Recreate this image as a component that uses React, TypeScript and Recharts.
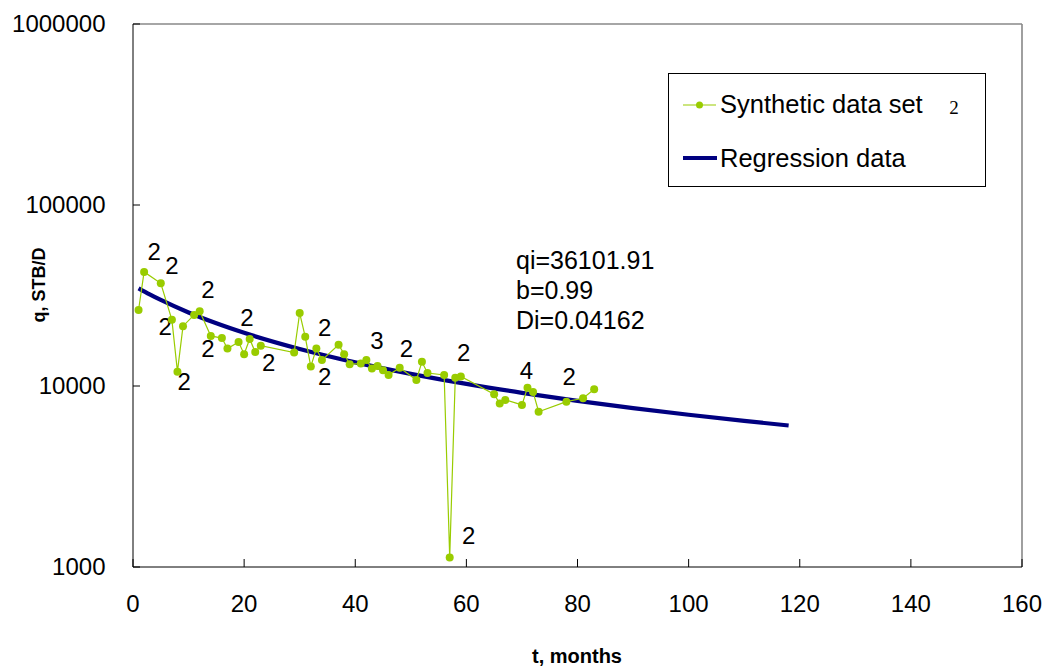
import React from 'react';
import { ComposedChart, Line, Scatter, XAxis, YAxis, ReferenceLine, Legend, Label } from 'recharts';

const FONT = '"Liberation Sans", Arial, Helvetica, sans-serif';
const GREEN = '#99CC00';
const NAVY = '#000080';

// Synthetic data set (months, STB/D)
const months = [1, 2, 5, 7, 8, 9, 11, 12, 14, 16, 17, 19, 20, 21, 22, 23, 29, 30, 31, 32, 33, 34, 37, 38, 39, 41, 42, 43, 44, 45, 46, 48, 51, 52, 53, 56, 57, 58, 59, 65, 66, 67, 70, 71, 72, 73, 78, 81, 83];
const rates = [26300, 42700, 36900, 23200, 12000, 21400, 24700, 25900, 18900, 18400, 16100, 17500, 15000, 18200, 15400, 16700, 15300, 25300, 18700, 12800, 16100, 13900, 16900, 15000, 13200, 13300, 13900, 12500, 12900, 12200, 11500, 12600, 10800, 13600, 11800, 11500, 1130, 11100, 11300, 9000, 8000, 8380, 7860, 9790, 9270, 7210, 8190, 8550, 9590];

// Regression data
const regMonths = [1, 3, 5, 10, 15, 20, 30, 40, 50, 60, 70, 80, 90, 100, 110, 118];
const regRates = [34659, 32092, 29878, 25478, 22204, 19672, 16014, 13499, 11665, 10267, 9168, 8280, 7549, 6935, 6414, 6049];

// Point-count annotations
const noteMonths = [3.8, 7.0, 5.8, 9.2, 13.5, 13.5, 20.5, 24.4, 34.5, 34.5, 43.9, 49.2, 59.5, 70.8, 78.5, 60.4];
const noteRates = [55200, 46000, 21300, 10600, 34200, 16100, 24000, 13500, 21000, 11200, 17900, 16100, 15300, 12200, 11200, 1490];
const noteLabels = ['2', '2', '2', '2', '2', '2', '2', '2', '2', '2', '3', '2', '2', '4', '2', '2'];

const xTicks = [0, 20, 40, 60, 80, 100, 120, 140, 160];
const yTicks = [1000, 10000, 100000, 1000000];
const fitLines = ['qi=36101.91', 'b=0.99', 'Di=0.04162'];

const synthetic = months.map((t, i) => ({ t, q: rates[i] }));
const regression = regMonths.map((t, i) => ({ t, q: regRates[i] }));
const notes = noteMonths.map((t, i) => ({ t, q: noteRates[i], label: noteLabels[i] }));

const XTick = (props: any) => {
  const { x, y, payload } = props;
  return (
    <g>
      <line x1={x} x2={x} y1={y} y2={y - 8} stroke="#000" strokeWidth={1} />
      <text x={x} y={y + 45} textAnchor="middle" fontSize={24} fontFamily={FONT} fill="#000">
        {payload.value}
      </text>
    </g>
  );
};

const YTick = (props: any) => {
  const { x, y, payload } = props;
  return (
    <g>
      <line x1={x} x2={x + 7} y1={y} y2={y} stroke="#000" strokeWidth={1} />
      <text x={x - 27.5} y={y} dy="0.35em" textAnchor="end" fontSize={24} fontFamily={FONT} fill="#000">
        {payload.value}
      </text>
    </g>
  );
};

const NoteShape = (props: any) => {
  const { cx, cy, payload } = props;
  return (
    <text x={cx} y={cy} dy="0.35em" textAnchor="middle" fontSize={24} fontFamily={FONT} fill="#000">
      {payload.label}
    </text>
  );
};

const YTitle = () => (
  <text transform="translate(45,285) rotate(-90)" textAnchor="middle" fontSize={18} fontWeight="bold" fontFamily={FONT} fill="#000">
    q, STB/D
  </text>
);

const XTitle = () => (
  <text x={577} y={663} textAnchor="middle" fontSize={20} fontWeight="bold" fontFamily={FONT} fill="#000">
    t, months
  </text>
);

const LegendBox = () => (
  <div
    style={{
      position: 'relative',
      width: 318,
      height: 114,
      boxSizing: 'border-box',
      border: '1px solid #000',
      background: '#fff',
      fontFamily: FONT,
      color: '#000',
    }}
  >
    <svg style={{ position: 'absolute', left: 13, top: 26 }} width={36} height={10}>
      <line x1={1} x2={34} y1={5} y2={5} stroke={GREEN} strokeWidth={1.2} />
      <circle cx={17.5} cy={5} r={3.5} fill={GREEN} />
    </svg>
    <span style={{ position: 'absolute', left: 51, top: 15, fontSize: 25.5, lineHeight: '30px', whiteSpace: 'nowrap' }}>
      Synthetic data set
    </span>
    <svg style={{ position: 'absolute', left: 270, top: 16 }} width={30} height={30}>
      <text x={15} y={24} textAnchor="middle" fontSize={19} fontFamily='"Liberation Serif", "Times New Roman", serif' fill="#000">
        2
      </text>
    </svg>
    <svg style={{ position: 'absolute', left: 13, top: 78 }} width={38} height={12}>
      <line x1={1} x2={35} y1={6} y2={6} stroke={NAVY} strokeWidth={4} />
    </svg>
    <span style={{ position: 'absolute', left: 51, top: 69, fontSize: 25.5, lineHeight: '30px', whiteSpace: 'nowrap' }}>
      Regression data
    </span>
  </div>
);

export default function App() {
  return (
    <div style={{ position: 'absolute', left: 0, top: 0, width: 1045, height: 666, background: '#fff' }}>
      <ComposedChart width={1045} height={666} margin={{ top: 24, right: 23, bottom: 0, left: 0 }}>
        <XAxis
          type="number"
          dataKey="t"
          domain={[0, 160]}
          ticks={xTicks}
          interval={0}
          height={99}
          tickSize={0}
          tickMargin={0}
          tickLine={false}
          tick={<XTick />}
          axisLine={{ stroke: '#000', strokeWidth: 1 }}
          allowDataOverflow
          label={<Label content={<XTitle />} />}
        />
        <YAxis
          type="number"
          scale="log"
          domain={[1000, 1000000]}
          ticks={yTicks}
          interval={0}
          width={133}
          tickSize={0}
          tickMargin={0}
          tickLine={false}
          tick={<YTick />}
          axisLine={{ stroke: '#000', strokeWidth: 1 }}
          allowDataOverflow
          label={<Label content={<YTitle />} />}
        />
        <ReferenceLine y={1000000} stroke="#888" strokeWidth={1.6} />
        <ReferenceLine x={160} stroke="#888" strokeWidth={1.6} />
        <Line
          data={regression}
          dataKey="q"
          type="monotone"
          stroke={NAVY}
          strokeWidth={4.2}
          dot={false}
          activeDot={false}
          isAnimationActive={false}
        />
        <Line
          data={synthetic}
          dataKey="q"
          type="linear"
          stroke={GREEN}
          strokeWidth={1.2}
          dot={{ r: 4, fill: GREEN, stroke: GREEN, strokeWidth: 0 }}
          activeDot={false}
          isAnimationActive={false}
        />
        <Scatter data={notes} dataKey="q" shape={<NoteShape />} isAnimationActive={false} />
        <Legend
          layout="horizontal"
          verticalAlign="middle"
          align="center"
          wrapperStyle={{ position: 'absolute', left: 668, top: 73, width: 318, height: 114 }}
          content={() => <LegendBox />}
        />
      </ComposedChart>
      <div
        style={{
          position: 'absolute',
          left: 516,
          top: 245,
          fontFamily: FONT,
          fontSize: 25,
          lineHeight: '30px',
          color: '#000',
          whiteSpace: 'nowrap',
        }}
      >
        {fitLines.map((s) => (
          <div key={s}>{s}</div>
        ))}
      </div>
    </div>
  );
}
